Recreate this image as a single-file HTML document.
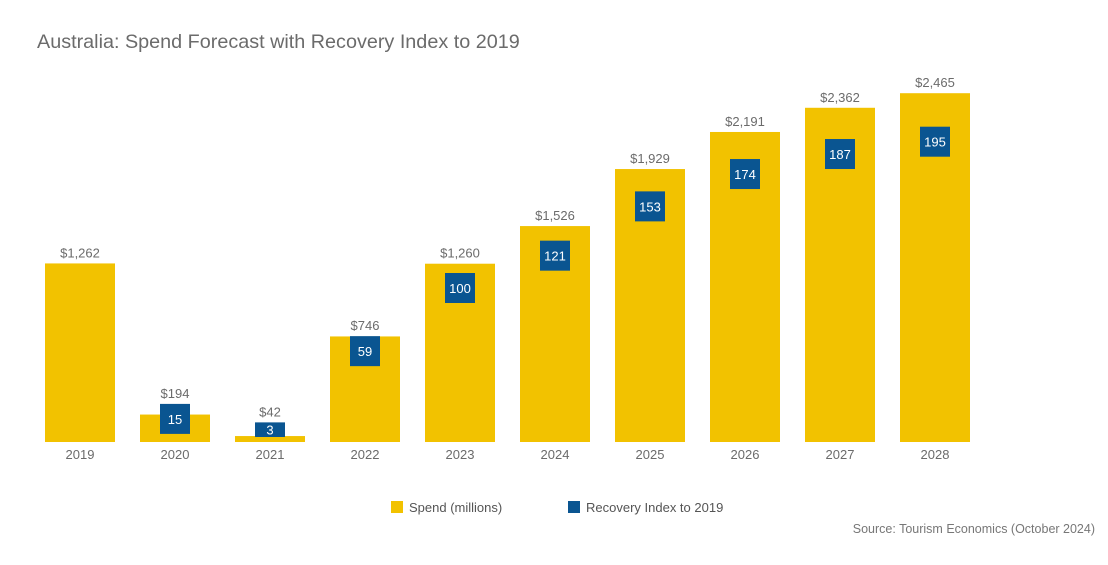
<!DOCTYPE html>
<html><head><meta charset="utf-8"><style>
body{margin:0;background:#fff;font-family:"Liberation Sans",sans-serif;}
</style></head><body>
<svg id="c" width="1108" height="560" xmlns="http://www.w3.org/2000/svg">
<text x="37" y="48" font-size="19.8" fill="#6b6b6b">Australia: Spend Forecast with Recovery Index to 2019</text>
<g id="bars"></g>
<g>
<rect x="391" y="501" width="12" height="12" fill="#f2c200"/>
<text x="409" y="512" font-size="13" fill="#555">Spend (millions)</text>
<rect x="568" y="501" width="12" height="12" fill="#0a5591"/>
<text x="586" y="512" font-size="13" fill="#555">Recovery Index to 2019</text>
</g>
<text x="1095" y="533" font-size="12.5" fill="#777" text-anchor="end">Source: Tourism Economics (October 2024)</text>
</svg>
<script>
const years=["2019","2020","2021","2022","2023","2024","2025","2026","2027","2028"];
const spend=[1262,194,42,746,1260,1526,1929,2191,2362,2465];
const spendLabels=["$1,262","$194","$42","$746","$1,260","$1,526","$1,929","$2,191","$2,362","$2,465"];
const recovery=[null,15,3,59,100,121,153,174,187,195];
const NS="http://www.w3.org/2000/svg";
const g=document.getElementById('bars');
const base=442;
function x(i){return 80+i*95;}
function y(v){return base-v*0.1415;}
function yIdxTop(v){return 427-v*1.54;}
function mk(t,a){const e=document.createElementNS(NS,t);for(const k in a)e.setAttribute(k,a[k]);g.appendChild(e);return e;}
years.forEach((yr,i)=>{
  const r=mk('rect',{x:x(i)-35,y:y(spend[i]),width:70,height:base-y(spend[i]),fill:'#f2c200'});
  
  
  let labelY=y(spend[i])-6;
  if(recovery[i]!=null){
    const top=yIdxTop(recovery[i]);
    const bot=Math.min(top+30,437);
    const b=mk('rect',{x:x(i)-15,y:top,width:30,height:bot-top,fill:'#0a5591'});
    
    
    const t=mk('text',{x:x(i),y:(top+bot)/2+5,'font-size':13,fill:'#fff','text-anchor':'middle'});
    t.textContent=recovery[i];
    
    
    labelY=Math.min(labelY,top-6);
  }
  const l=mk('text',{x:x(i),y:labelY,'font-size':13,fill:'#6b6b6b','text-anchor':'middle'});
  l.textContent=spendLabels[i];
  
  
  const xl=mk('text',{x:x(i),y:459,'font-size':13,fill:'#6b6b6b','text-anchor':'middle'});
  xl.textContent=yr;
  
  
});
</script>
</body></html>
